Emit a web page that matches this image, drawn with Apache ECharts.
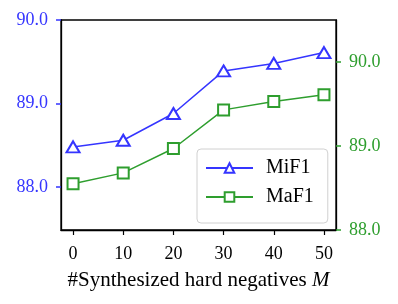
<!DOCTYPE html>
<html><head><meta charset="utf-8">
<script src="https://cdn.jsdelivr.net/npm/echarts@6/dist/echarts.min.js"></script>
<style>html,body{margin:0;padding:0;background:#fff}#c{width:398px;height:304px}</style>
</head><body><div id="c"></div>
<script>
const xValues = [0, 10, 20, 30, 40, 50];
const mif1 = [88.48, 88.56, 88.88, 89.39, 89.48, 89.61];
const maf1 = [88.55, 88.68, 88.97, 89.43, 89.53, 89.61];
const xTicks = [0, 10, 20, 30, 40, 50];
const leftTicks = [88, 89, 90];
const rightTicks = [88, 89, 90];
const seriesNames = ['MiF1', 'MaF1'];
const xTitle = '#Synthesized hard negatives ';
const xTitleItalic = 'M';

const BLUE = '#3535ff';
const GREEN = '#2e9e2e';
const FONT = 'Liberation Serif';

const chart = echarts.init(document.getElementById('c'), null, {renderer: 'canvas'});
chart.setOption({
  animation: false,
  textStyle: {fontFamily: FONT},
  grid: {left: 61, right: 62, top: 20, bottom: 74, show: true, borderColor: '#000', borderWidth: 1.3, backgroundColor: 'transparent'},
  legend: {
    orient: 'vertical', left: 197, top: 149,
    data: seriesNames,
    itemWidth: 47, itemHeight: 12, itemGap: 9,
    padding: [9, 14, 16, 8],
    backgroundColor: '#fff', borderColor: '#d0d0d0', borderWidth: 1, borderRadius: 4,
    textStyle: {fontFamily: FONT, fontSize: 20, color: '#000', padding: [0, 0, 0, 8]}
  },
  xAxis: {
    type: 'value', min: -2.4, max: 52.4,
    splitLine: {show: false},
    axisLine: {show: true, onZero: false, lineStyle: {color: '#000', width: 1.3}},
    axisTick: {show: true, customValues: xTicks, length: 5, lineStyle: {color: '#000', width: 1.2}},
    axisLabel: {customValues: xTicks, fontFamily: FONT, fontSize: 18, color: '#000', margin: 15},
    name: '{n|' + xTitle + '}{i|' + xTitleItalic + '}',
    nameLocation: 'middle', nameGap: 40,
    nameTextStyle: {rich: {n: {fontFamily: FONT, fontSize: 21, color: '#000'}, i: {fontFamily: FONT, fontSize: 21, fontStyle: 'italic', color: '#000'}}}
  },
  yAxis: [
    {
      type: 'value', position: 'left', min: 87.485, max: 90.0,
      splitLine: {show: false},
      axisLine: {show: true, onZero: false, lineStyle: {color: '#000', width: 1.3}},
      axisTick: {show: true, customValues: leftTicks, length: 5, lineStyle: {color: BLUE, width: 1.5}},
      axisLabel: {customValues: leftTicks, fontFamily: FONT, fontSize: 18, color: BLUE, margin: 13, formatter: v => v.toFixed(1)}
    },
    {
      type: 'value', position: 'right', min: 88.0, max: 90.5,
      splitLine: {show: false},
      axisLine: {show: true, onZero: false, lineStyle: {color: '#000', width: 1.3}},
      axisTick: {show: true, customValues: rightTicks, length: 5, lineStyle: {color: GREEN, width: 1.5}},
      axisLabel: {customValues: rightTicks, fontFamily: FONT, fontSize: 18, color: GREEN, margin: 13, formatter: v => v.toFixed(1)}
    }
  ],
  series: [
    {
      name: seriesNames[0], type: 'line', yAxisIndex: 0,
      data: xValues.map((x, i) => [x, mif1[i]]),
      symbol: 'emptyTriangle', symbolSize: [13, 11],
      lineStyle: {color: BLUE, width: 1.5},
      itemStyle: {color: BLUE, borderColor: BLUE, borderWidth: 1.5}
    },
    {
      name: seriesNames[1], type: 'line', yAxisIndex: 1,
      data: xValues.map((x, i) => [x, maf1[i]]),
      symbol: 'emptyRect', symbolSize: 11,
      lineStyle: {color: GREEN, width: 1.5},
      itemStyle: {color: GREEN, borderColor: GREEN, borderWidth: 1.5}
    }
  ]
});
</script></body></html>
